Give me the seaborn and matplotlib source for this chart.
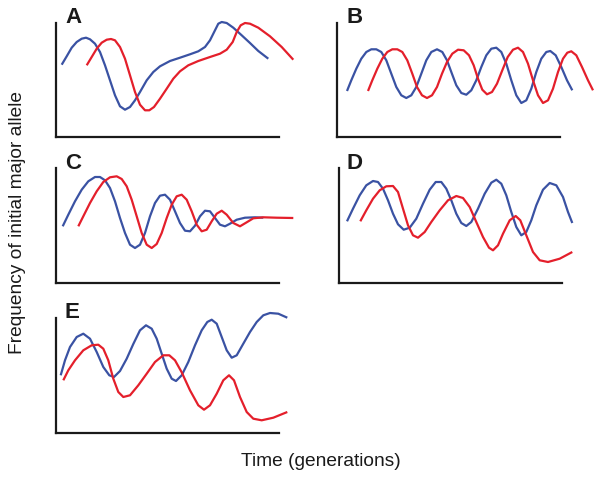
import matplotlib
matplotlib.use("Agg")
import matplotlib.pyplot as plt
import seaborn as sns

sns.set_style("white")
plt.rcParams['font.family'] = ['Liberation Sans', 'DejaVu Sans']

BLUE = "#3a52a3"
RED = "#e41f2b"

# ---------------- data (time, frequency) ----------------
# Panel A
a_blue_t = [5.7, 10.7, 15.7, 20.7, 25.7, 30, 34, 39, 44, 49, 54, 59, 64, 69, 74, 79, 84, 90.7, 97.3, 104,
            114, 124, 134, 142.3, 149, 154, 159, 162.3, 165.7, 170.7, 177.3, 185.7, 194, 202.3, 212.3]
a_blue_f = [72.3, 80.7, 89.3, 95, 98.3, 99.3, 97.7, 93.3, 85, 71.7, 56.7, 41.7, 30.7, 27.3, 30, 36.7, 45, 56.7, 65, 70.7,
            76, 79.3, 82.7, 85.7, 90, 96.7, 106.7, 113.3, 115, 114, 109.3, 101.7, 94, 86, 78.3]
a_red_t = [30.7, 35.7, 40.7, 45.7, 50.7, 55, 59, 64, 69, 74, 79, 84, 89, 93.3, 98, 104, 110.7, 117.3, 124, 132.3,
           142.3, 154, 164, 170.7, 176.7, 180.7, 184.7, 189, 194, 202.3, 214, 225.7, 237.3]
a_red_f = [71.7, 80, 88.3, 94.3, 97.3, 98, 96.7, 90, 78.3, 61.7, 45, 32.3, 26.7, 26.7, 30, 38.3, 48.3, 58.3, 65.7, 71.7,
           76, 80, 83.3, 87.3, 95, 105, 111.7, 114, 113.3, 109.3, 100.7, 90, 77.3]

# Panel B
b_blue_t = [10, 14.3, 19.3, 24.3, 29.3, 34.3, 39.3, 44.3, 49.3, 54.3, 59.3, 64.3, 69.3, 74.3, 79.3, 84.3, 89.3, 94.3,
            100, 105.3, 110, 114.3, 119.3, 124.3, 129.3, 134.3, 139.3, 144.3, 149.3, 154.3, 159.3, 164.3, 169.3,
            174.3, 179.3, 184.3, 189.3, 194.3, 199.3, 204.3, 209.3, 213.3, 218.7, 224.3, 230, 235.3]
b_blue_f = [46, 56.7, 68.3, 78.3, 85, 87.7, 87.7, 85, 76.7, 63.3, 50, 41.7, 39, 41.7, 50, 63.3, 76.7, 85,
            87.7, 85, 76.7, 65, 51.7, 44, 42.3, 46.7, 56.7, 70, 81.7, 88.3, 89.3, 85, 73.3,
            56.7, 41.7, 34, 36.7, 48.3, 65, 78.3, 85, 86, 81.7, 70, 56.7, 46.7]
b_red_t = [31, 35.3, 40.3, 45.3, 50.3, 55.3, 60.3, 65.3, 70.3, 75.3, 80, 85, 90, 95, 100, 105, 110, 115.3, 121,
           126.7, 132, 136.7, 141, 145.3, 150, 155, 160, 165.3, 170.7, 176, 181, 186, 191, 196, 201, 206, 211,
           216, 221, 226, 230.3, 234.3, 239.3, 245, 251, 256]
b_red_f = [46, 56.7, 68.3, 78.3, 85, 87.7, 87.7, 85, 76.7, 63.3, 50, 41.7, 39, 41.7, 50, 63.3, 75, 83.3, 87.3,
           86.7, 81.7, 71.7, 58.3, 47.3, 42.7, 45, 53.3, 66.7, 80, 87.3, 89.3, 85, 73.3, 56.7, 41.7, 34, 36.7,
           48.3, 65, 78.3, 84.3, 85.7, 81.7, 70, 56.7, 46.7]

# Panel C
c_blue_t = [6.7, 12.3, 19, 25.7, 32.3, 39, 44, 49, 54, 59, 64, 69, 74, 79, 84, 89, 94, 99, 104, 109, 114, 119,
            124, 129, 134, 139, 144, 149, 154, 159, 164, 169, 174, 180.7, 189, 199, 207.3]
c_blue_f = [56.7, 68.3, 81.7, 93.3, 101.7, 106, 106, 102.7, 95, 81.7, 65, 50, 38.3, 35, 38.3, 50, 66.7, 80, 87.3,
            88.3, 83.3, 71.7, 60, 52.3, 51.7, 57.3, 66.7, 72.3, 71.7, 65, 58.3, 56.7, 59.3, 63.3, 65.3, 65.7, 65.3]
c_red_t = [22.3, 27.3, 34, 40.7, 47.3, 54, 60.7, 65.7, 70.7, 75.7, 80.7, 85.7, 90.7, 95.7, 100.7, 105.7, 110.7,
           115.7, 120.7, 125.7, 130.7, 135.7, 140.7, 145.7, 150.7, 155.7, 160.7, 165.7, 170.7, 177.3, 184,
           190.7, 197.3, 207.3, 220.7, 237.3]
c_red_f = [56.7, 66.7, 80, 91.7, 101, 105.7, 106.7, 104, 96.7, 83.3, 66.7, 50, 38.3, 35, 39, 50, 65,
           78.3, 86.7, 88.3, 83.3, 71.7, 58.3, 51.7, 53.3, 61.7, 69.3, 72.3, 68.3, 60, 56.7,
           60.7, 64.7, 65.7, 65.3, 65]

# Panel D
d_blue_t = [8, 14, 20.7, 27.3, 34, 39, 44, 49, 54, 59, 64.7, 70.7, 77.3, 84, 90.7, 96.7, 102.3, 107.3, 112.3,
            117.3, 122.3, 127.3, 132.3, 139, 145.7, 152.3, 157.3, 162.3, 167.3, 172.3, 177.3, 182.3, 187.3,
            192.3, 197.3, 204, 210.7, 217.3, 224, 229, 233.3]
d_blue_f = [61.7, 74.3, 87.7, 97.7, 102, 101, 94.3, 82.7, 69.3, 58.7, 53.3, 55.3, 64.3, 79.3, 93.3, 101, 101, 94.3,
            82.7, 69.3, 60, 57, 61, 74.3, 89.3, 100.3, 103.3, 99.3, 87.7, 71, 56, 47.7, 51,
            62.7, 77.7, 93.3, 100, 97.7, 86, 71, 60]
d_red_t = [21.3, 27.3, 34, 40.7, 47.3, 54, 59, 64, 69, 74, 79, 85.7, 92.3, 100.7, 109, 117.3, 124, 130.7, 137.3,
           144, 150, 154, 159, 164, 170.7, 176.7, 181.3, 187.3, 194, 200.7, 209, 220.7, 233.3]
d_red_f = [61.7, 72.7, 84.3, 92.7, 96.7, 97, 91, 74.3, 57.7, 47.7, 45.3, 51, 61, 72.7, 82.7, 87, 85, 76, 61,
           46, 35.3, 32.7, 37.7, 49.3, 62.7, 67, 62.7, 47.7, 31, 22.7, 21, 24.3, 31]

# Panel E
e_blue_t = [4.7, 9, 14, 20.7, 27.3, 34, 40.7, 47.3, 53.3, 58, 64, 70.7, 77.3, 84, 90, 95.7, 100.7, 105.7, 110.7,
            115.7, 120, 125.7, 132.3, 139, 145.7, 151.3, 155.7, 160.7, 165.7, 170.7, 175.7, 180.7, 187.3, 194,
            200.7, 207.3, 214, 222.3, 231.3]
e_blue_f = [57.7, 72.7, 86, 96, 99.3, 94.3, 81, 66, 57.7, 56, 62, 74.3, 89, 102.7, 107.7, 104.3, 94.3, 79.3, 64.3,
            54.3, 52, 57.7, 71, 87.7, 102.7, 111, 113.3, 109.3, 96, 82.7, 75.3, 77.7, 89.3, 101,
            111, 117.7, 120, 119.3, 115.3]
e_red_t = [7.3, 12.3, 19, 27.3, 35.7, 42.3, 47.3, 52.3, 57.3, 62.3, 67.3, 74, 82.3, 90.7, 99, 107.3, 113.3, 119,
           125.7, 134, 142.3, 148, 154, 160.7, 167.3, 173, 178, 184, 190.7, 197.3, 205.7, 217.3, 231.3]
e_red_f = [52.7, 62.7, 72.7, 82.7, 87.7, 88.3, 84.3, 72.7, 54.3, 41, 36, 37.7, 47.7, 59.3, 71, 77.7, 77.7, 72.7,
           60.7, 42.7, 27.7, 23.3, 27.7, 39.3, 52.7, 57.7, 52.7, 36, 21, 14.3, 12.7, 15.3, 21]

panel_labels = ["A", "B", "C", "D", "E"]
x_label = "Time (generations)"
y_label = "Frequency of initial major allele"

# ---------------- layout (pixels) ----------------
FW, FH = 602, 478
fig = plt.figure(figsize=(FW / 100, FH / 100), dpi=100)

# origin x, origin y (pixels from top), axes width, axes height, spine width, spine height, label x, label top
layout = [
    (56, 137, 250, 124, 223, 114, 65, 7),
    (337, 137, 262, 124, 223, 114, 346, 7),
    (56, 283, 245, 122, 223, 115, 65, 153),
    (339, 283, 245, 122, 223, 115, 347, 153),
    (56, 433, 245, 125, 223, 115, 65, 302),
]
curves = [
    (a_blue_t, a_blue_f, a_red_t, a_red_f),
    (b_blue_t, b_blue_f, b_red_t, b_red_f),
    (c_blue_t, c_blue_f, c_red_t, c_red_f),
    (d_blue_t, d_blue_f, d_red_t, d_red_f),
    (e_blue_t, e_blue_f, e_red_t, e_red_f),
]

for lab, (ox, oy, w, h, sw, sh, lx, ly), (bt, bf, rt, rf) in zip(panel_labels, layout, curves):
    ax = fig.add_axes([ox / FW, (FH - oy) / FH, w / FW, h / FH])
    ax.patch.set_alpha(0)
    sns.lineplot(x=bt, y=bf, ax=ax, color=BLUE, linewidth=1.6, estimator=None, sort=False)
    sns.lineplot(x=rt, y=rf, ax=ax, color=RED, linewidth=1.6, estimator=None, sort=False)
    for ln in ax.lines:
        ln.set_clip_on(False)
        ln.set_solid_joinstyle("round")
        ln.set_solid_capstyle("butt")
    ax.set_xlim(0, w)
    ax.set_ylim(0, h)
    ax.set_xticks([])
    ax.set_yticks([])
    ax.set_xlabel("")
    ax.set_ylabel("")
    for s in ["top", "right"]:
        ax.spines[s].set_visible(False)
    for s in ["left", "bottom"]:
        ax.spines[s].set_color("#1a1a1a")
        ax.spines[s].set_linewidth(1.6)
    ax.spines["bottom"].set_bounds(0, sw)
    ax.spines["left"].set_bounds(0, sh)
    fig.text(lx / FW, 1 - ly / FH, lab, fontsize=16, fontweight="bold", ha="left", va="top", color="#1a1a1a")

fig.text(321 / FW, 1 - 461 / FH, x_label, fontsize=13.8, ha="center", va="center", color="#1a1a1a")
fig.text(18 / FW, 1 - 223 / FH, y_label, fontsize=13.8, ha="center", va="center", rotation=90, color="#1a1a1a")

fig.savefig("out.png", dpi=100)
